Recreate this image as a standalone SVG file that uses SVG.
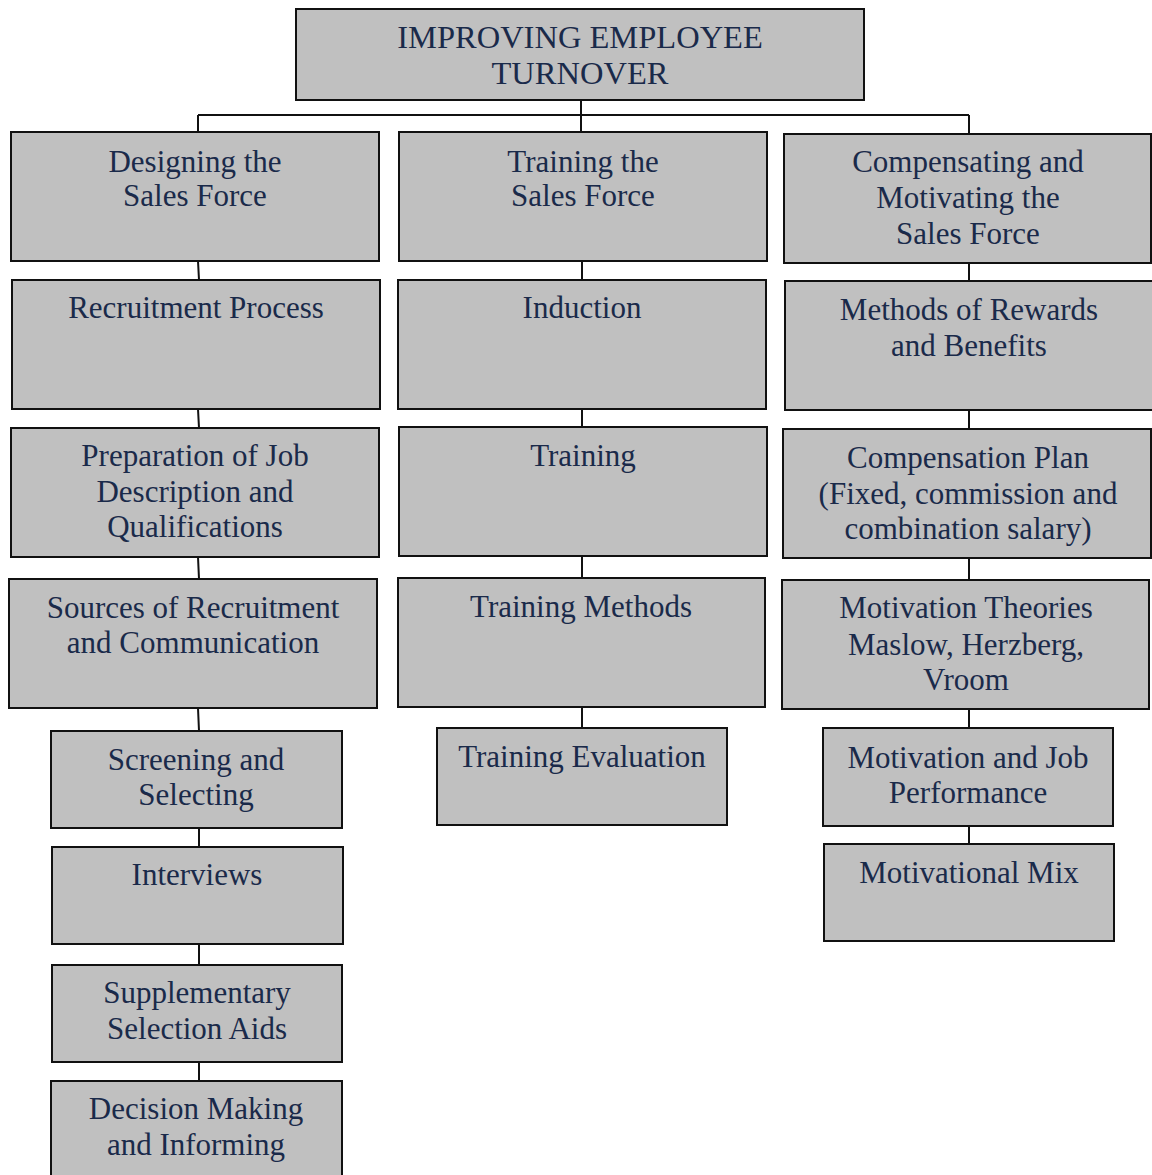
<svg xmlns="http://www.w3.org/2000/svg" width="1152" height="1175" viewBox="0 0 1152 1175">
<style>
.box{fill:#c0c0c0;stroke:#111;stroke-width:2}
.t{font-family:"Liberation Serif","Times New Roman",serif;font-size:31px;fill:#1a2a4a;text-anchor:middle}
.title{font-size:32.5px}
.c{stroke:#111;stroke-width:2;fill:none}
</style>
<rect width="1152" height="1175" fill="#fff"/>
<g id="connectors">
<path class="c" d="M581 100V115M198 115H969M198 115V132M581 115V132M969 115V134"/>
<path class="c" d="M198 261L199 280M198 409L199 428M198 557L199 579M198 708L199 731M199 828V847M199 944V965M199 1062V1081"/>
<path class="c" d="M582 261V280M582 409V428M582 556V578M582 707V728"/>
<path class="c" d="M969 263V281M969 410V429M969 558V580M969 709V728M969 826V844"/>
</g>
<g id="root"><rect class="box" x="296" y="9" width="568" height="91"/><text class="t title" x="580" y="48">IMPROVING EMPLOYEE</text><text class="t title" x="580" y="84">TURNOVER</text></g>
<g id="designing"><rect class="box" x="11" y="132" width="368" height="129"/><text class="t" x="195" y="172">Designing the</text><text class="t" x="195" y="206">Sales Force</text></g>
<g id="training-sf"><rect class="box" x="399" y="132" width="368" height="129"/><text class="t" x="583" y="172">Training the</text><text class="t" x="583" y="206">Sales Force</text></g>
<g id="compensating"><rect class="box" x="784" y="134" width="367" height="129"/><text class="t" x="968" y="172">Compensating and</text><text class="t" x="968" y="208">Motivating the</text><text class="t" x="968" y="244">Sales Force</text></g>
<g id="recruitment"><rect class="box" x="12" y="280" width="368" height="129"/><text class="t" x="196" y="318">Recruitment Process</text></g>
<g id="preparation"><rect class="box" x="11" y="428" width="368" height="129"/><text class="t" x="195" y="466">Preparation of Job</text><text class="t" x="195" y="502">Description and</text><text class="t" x="195" y="537">Qualifications</text></g>
<g id="sources"><rect class="box" x="9" y="579" width="368" height="129"/><text class="t" x="193" y="618">Sources of Recruitment</text><text class="t" x="193" y="653">and Communication</text></g>
<g id="screening"><rect class="box" x="51" y="731" width="291" height="97"/><text class="t" x="196" y="770">Screening and</text><text class="t" x="196" y="805">Selecting</text></g>
<g id="interviews"><rect class="box" x="52" y="847" width="291" height="97"/><text class="t" x="197" y="885">Interviews</text></g>
<g id="supplementary"><rect class="box" x="52" y="965" width="290" height="97"/><text class="t" x="197" y="1003">Supplementary</text><text class="t" x="197" y="1039">Selection Aids</text></g>
<g id="decision"><rect class="box" x="51" y="1081" width="291" height="100"/><text class="t" x="196" y="1119">Decision Making</text><text class="t" x="196" y="1155">and Informing</text></g>
<g id="induction"><rect class="box" x="398" y="280" width="368" height="129"/><text class="t" x="582" y="318">Induction</text></g>
<g id="training"><rect class="box" x="399" y="427" width="368" height="129"/><text class="t" x="583" y="466">Training</text></g>
<g id="training-methods"><rect class="box" x="398" y="578" width="367" height="129"/><text class="t" x="581" y="617">Training Methods</text></g>
<g id="training-evaluation"><rect class="box" x="437" y="728" width="290" height="97"/><text class="t" x="582" y="767">Training Evaluation</text></g>
<g id="rewards"><rect class="box" x="785" y="281" width="368" height="129"/><text class="t" x="969" y="320">Methods of Rewards</text><text class="t" x="969" y="356">and Benefits</text></g>
<g id="compensation-plan"><rect class="box" x="783" y="429" width="368" height="129"/><text class="t" x="968" y="468">Compensation Plan</text><text class="t" x="968" y="504">(Fixed, commission and</text><text class="t" x="968" y="539">combination salary)</text></g>
<g id="motivation-theories"><rect class="box" x="782" y="580" width="367" height="129"/><text class="t" x="966" y="618">Motivation Theories</text><text class="t" x="966" y="655">Maslow, Herzberg,</text><text class="t" x="966" y="690">Vroom</text></g>
<g id="motivation-job"><rect class="box" x="823" y="728" width="290" height="98"/><text class="t" x="968" y="768">Motivation and Job</text><text class="t" x="968" y="803">Performance</text></g>
<g id="motivational-mix"><rect class="box" x="824" y="844" width="290" height="97"/><text class="t" x="969" y="883">Motivational Mix</text></g>
</svg>
